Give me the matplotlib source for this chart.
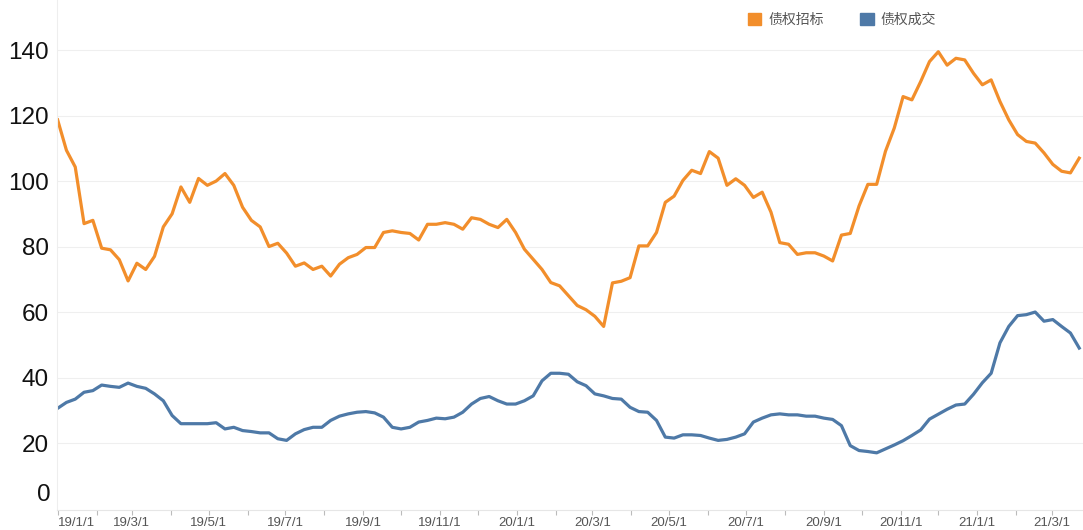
import numpy as np
import pandas as pd
import matplotlib
matplotlib.use("Agg")
import matplotlib.pyplot as plt
import matplotlib.dates as mdates
from matplotlib.patches import Patch

plt.rcParams['font.family'] = ['Noto Sans CJK SC', 'DejaVu Sans']

# Weekly readings, starting 2019-01-01
start = "2019-01-01"
series_names = ["债权招标", "债权成交"]

bidding = [
    118.7, 109.4, 104.3, 87.0, 88.0, 79.5, 79.0, 76.0, 69.5, 74.9,
    73.0, 77.0, 86.0, 90.0, 98.2, 93.5, 100.8, 98.7, 100.0, 102.3,
    98.7, 92.0, 88.0, 86.0, 80.0, 81.0, 78.0, 74.0, 75.0, 73.0,
    74.0, 71.0, 74.6, 76.6, 77.6, 79.7, 79.7, 84.3, 84.8, 84.3,
    84.0, 82.0, 86.8, 86.8, 87.3, 86.8, 85.3, 88.8, 88.3, 86.8,
    85.8, 88.3, 84.3, 79.2, 76.1, 73.0, 69.0, 68.0, 65.0, 62.0,
    60.7, 58.7, 55.6, 68.9, 69.4, 70.5, 80.2, 80.2, 84.3, 93.5,
    95.4, 100.2, 103.3, 102.3, 109.0, 107.0, 98.7, 100.7, 98.7, 95.0,
    96.6, 90.5, 81.2, 80.7, 77.6, 78.1, 78.1, 77.1, 75.6, 83.5,
    84.0, 92.4, 99.0, 99.0, 109.1, 116.2, 125.8, 124.8, 130.4, 136.5,
    139.5, 135.4, 137.5, 137.0, 132.9, 129.4, 130.9, 124.3, 118.7, 114.2,
    112.1, 111.6, 108.6, 105.1, 103.0, 102.5, 107.0,
]

deals = [
    30.6, 32.4, 33.4, 35.5, 36.0, 37.7, 37.3, 37.0, 38.3, 37.3,
    36.7, 35.0, 32.9, 28.4, 25.9, 25.9, 25.9, 25.9, 26.2, 24.3,
    24.8, 23.8, 23.5, 23.1, 23.1, 21.3, 20.8, 22.8, 24.1, 24.8,
    24.8, 26.9, 28.2, 28.9, 29.4, 29.6, 29.2, 27.9, 24.8, 24.3,
    24.8, 26.4, 26.9, 27.6, 27.4, 27.9, 29.4, 31.9, 33.6, 34.2,
    32.9, 31.9, 31.9, 32.9, 34.4, 39.0, 41.3, 41.3, 41.0, 38.7,
    37.5, 35.0, 34.4, 33.6, 33.4, 30.9, 29.6, 29.4, 26.9, 21.8,
    21.5, 22.5, 22.5, 22.3, 21.5, 20.8, 21.1, 21.8, 22.8, 26.4,
    27.6, 28.6, 28.9, 28.6, 28.6, 28.2, 28.2, 27.6, 27.2, 25.3,
    19.2, 17.7, 17.4, 17.0, 18.2, 19.4, 20.7, 22.3, 24.0, 27.3,
    28.8, 30.3, 31.6, 31.9, 34.9, 38.4, 41.3, 50.6, 55.6, 58.9,
    59.2, 60.0, 57.2, 57.7, 55.6, 53.6, 49.0,
]

dates = pd.date_range(start, periods=len(bidding), freq="7D")
y_ticks = [20, 40, 60, 80, 100, 120, 140]

orange = "#F28E2B"
blue = "#4E79A7"

fig = plt.figure(figsize=(10.83, 5.30), dpi=100)
ax = fig.add_axes([57 / 1083, 20 / 530, 1 - 57 / 1083, 510 / 530])

ax.plot(dates, bidding, color=orange, lw=2.3, solid_joinstyle="round")
ax.plot(dates, deals, color=blue, lw=2.3, solid_joinstyle="round")

ax.set_xlim(pd.Timestamp("2018-12-31 12:00"), pd.Timestamp("2021-03-26"))
ax.set_ylim(-0.46, 155.3)

ax.set_yticks(y_ticks)
ax.set_yticklabels([str(v) for v in y_ticks], family=["Liberation Sans"],
                   fontsize=17.5, color="#111111")
ax.text(-0.006, 4.2, "0", transform=ax.get_yaxis_transform(), ha="right",
        va="center", fontsize=17.5, color="#111111", family=["Liberation Sans"])
ax.tick_params(axis="y", length=0, pad=6)
ax.grid(axis="y", color="#efefef", lw=0.8)

# monthly ticks, labels every two months
ax.xaxis.set_major_locator(mdates.MonthLocator(bymonth=[1, 3, 5, 7, 9, 11]))
ax.xaxis.set_minor_locator(mdates.MonthLocator())
ax.xaxis.set_major_formatter(
    plt.FuncFormatter(lambda v, p: (lambda d: f"{d.year % 100}/{d.month}/{d.day}")(mdates.num2date(v))))
ax.tick_params(axis="x", which="both", length=3.5, color="#bbbbbb", width=0.8,
               labelsize=9.5, labelcolor="#555555", pad=1.5)
for lab in ax.get_xticklabels():
    lab.set_family(["Liberation Sans"])
fig.canvas.draw()
labels = ax.get_xticklabels()
if labels:
    labels[0].set_ha("left")

for s in ["top", "right"]:
    ax.spines[s].set_visible(False)
ax.spines["bottom"].set_color("#e6e6e6")
ax.spines["left"].set_color("#eeeeee")

handles = [Patch(color=orange), Patch(color=blue)]
fig.legend(handles, series_names, loc="upper left", bbox_to_anchor=(735 / 1083, 1.0),
           ncol=2, frameon=False, fontsize=10, labelcolor="#555555",
           handlelength=1.0, handleheight=1.0, handletextpad=0.5, columnspacing=2.6)

fig.savefig("out.png", dpi=100)
